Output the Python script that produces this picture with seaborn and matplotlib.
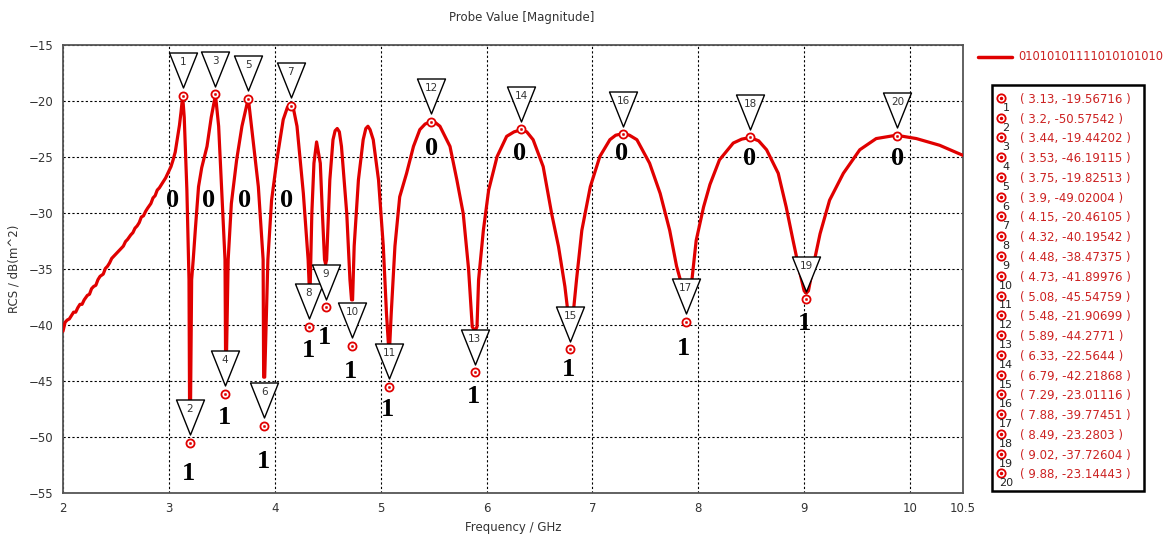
import matplotlib
matplotlib.use("Agg")
import matplotlib.pyplot as plt
import seaborn as sns
import pandas as pd
from matplotlib.transforms import ScaledTranslation
from matplotlib.lines import Line2D
from matplotlib.patches import Rectangle
from matplotlib.path import Path
from matplotlib.markers import MarkerStyle

# ---------------- data ----------------
freq = [2.00, 2.02, 2.04, 2.06, 2.08, 2.10, 2.12, 2.14, 2.16, 2.18, 2.20, 2.23, 2.25, 2.27,
        2.29, 2.31, 2.33, 2.35, 2.38, 2.40, 2.42, 2.44, 2.46, 2.48, 2.50, 2.53, 2.55, 2.57,
        2.59, 2.61, 2.64, 2.66, 2.68, 2.70, 2.72, 2.74, 2.76, 2.78, 2.80, 2.83, 2.85, 2.87,
        2.89, 2.91, 2.93, 2.95, 2.97, 3.00, 3.02, 3.04, 3.06, 3.08, 3.10, 3.115, 3.13,
        3.145, 3.17, 3.19, 3.195, 3.205, 3.215, 3.23, 3.25, 3.28, 3.31, 3.36, 3.40, 3.44,
        3.47, 3.50, 3.53, 3.535, 3.545, 3.56, 3.59, 3.64, 3.69, 3.75,
        3.78, 3.845, 3.89, 3.895, 3.905, 3.935, 3.97, 4.02, 4.08, 4.12, 4.15,
        4.18, 4.21, 4.27, 4.315, 4.325, 4.335, 4.35, 4.37, 4.395,
        4.43, 4.45, 4.47, 4.48, 4.49, 4.52, 4.55, 4.57, 4.59, 4.61,
        4.63, 4.68, 4.71, 4.725, 4.735, 4.75, 4.79, 4.835, 4.86, 4.88, 4.90,
        4.93, 4.98, 5.025, 5.055, 5.075, 5.085, 5.10, 5.135, 5.18, 5.245, 5.31, 5.37, 5.42,
        5.47, 5.52, 5.56, 5.655, 5.72, 5.78, 5.83, 5.865, 5.89, 5.91, 5.925, 5.97, 6.02, 6.10,
        6.19, 6.26, 6.33, 6.38, 6.44, 6.535, 6.615, 6.68, 6.74, 6.765, 6.785, 6.80, 6.825,
        6.85, 6.90, 6.98, 7.07, 7.165, 7.22, 7.29, 7.35, 7.42, 7.54, 7.64, 7.73, 7.795, 7.83,
        7.86, 7.88, 7.90, 7.94, 7.98, 8.05, 8.11, 8.20, 8.33, 8.41, 8.49, 8.57, 8.645, 8.755,
        8.83, 8.895, 8.96, 9.00, 9.02, 9.04, 9.085, 9.15, 9.24, 9.37, 9.525, 9.68, 9.87,
        10.06, 10.28, 10.50]
rcs = [-40.6, -39.8, -39.6, -39.5, -39.2, -38.9, -38.9, -38.5, -38.2, -38.2, -37.8, -37.4, -37.3, -36.8,
       -36.6, -36.5, -36.0, -35.7, -35.5, -35.0, -34.8, -34.5, -34.1, -33.9, -33.7, -33.4, -33.2, -33.0,
       -32.6, -32.4, -32.0, -31.8, -31.4, -31.2, -30.9, -30.4, -30.3, -29.9, -29.6, -29.2, -28.7, -28.5,
       -28.0, -27.8, -27.5, -27.2, -26.9, -26.3, -25.9, -25.3, -24.6, -23.4, -22.2, -21.0, -19.6,
       -21.5, -28.0, -36.0, -46.7, -46.7, -36.0, -34.2, -31.5, -27.7, -26.0, -24.1, -21.5, -19.5,
       -22.3, -28.3, -34.2, -42.3, -42.3, -34.2, -29.2, -25.3, -22.3, -19.8,
       -22.3, -27.7, -34.2, -44.7, -44.7, -34.2, -28.9, -25.3, -21.7, -20.6, -20.4,
       -20.9, -22.3, -28.3, -34.2, -36.5, -36.5, -30.1, -25.6, -23.7,
       -25.6, -30.1, -34.2, -34.6, -34.2, -27.1, -23.5, -22.7, -22.5, -22.8,
       -24.1, -30.1, -36.0, -37.8, -37.8, -33.0, -27.1, -23.5, -22.5, -22.3, -22.6,
       -23.5, -27.1, -33.0, -39.0, -42.0, -42.0, -39.0, -33.0, -28.6, -26.5, -24.1, -22.6, -22.1,
       -21.9, -22.0, -22.3, -24.1, -27.1, -30.1, -35.0, -40.2, -40.6, -40.2, -36.0, -31.6, -28.0, -25.0,
       -23.2, -22.8, -22.6, -22.8, -23.5, -25.9, -30.1, -33.05, -36.6, -38.6, -39.0, -39.0, -38.4,
       -36.0, -31.6, -27.7, -25.0, -23.5, -23.1, -22.95, -23.1, -23.5, -25.6, -28.3, -31.6, -34.8, -36.0,
       -38.0, -38.4, -38.0, -36.0, -32.5, -29.5, -27.5, -25.3, -23.8, -23.45, -23.3, -23.6, -24.4, -26.5,
       -29.5, -32.5, -35.4, -37.0, -37.2, -37.0, -34.8, -31.9, -28.9, -26.5, -24.4, -23.4, -23.1,
       -23.4, -24.0, -24.9]

marker_f = [3.13, 3.2, 3.44, 3.53, 3.75, 3.9, 4.15, 4.32, 4.48, 4.73, 5.08, 5.48, 5.89, 6.33,
            6.79, 7.29, 7.88, 8.49, 9.02, 9.88]
marker_v = [-19.56716, -50.57542, -19.44202, -46.19115, -19.82513, -49.02004, -20.46105,
            -40.19542, -38.47375, -41.89976, -45.54759, -21.90699, -44.2771, -22.5644,
            -42.21868, -23.01116, -39.77451, -23.2803, -37.72604, -23.14443]
marker_txt = ["( 3.13, -19.56716 )", "( 3.2, -50.57542 )", "( 3.44, -19.44202 )",
              "( 3.53, -46.19115 )", "( 3.75, -19.82513 )", "( 3.9, -49.02004 )",
              "( 4.15, -20.46105 )", "( 4.32, -40.19542 )", "( 4.48, -38.47375 )",
              "( 4.73, -41.89976 )", "( 5.08, -45.54759 )", "( 5.48, -21.90699 )",
              "( 5.89, -44.2771 )", "( 6.33, -22.5644 )", "( 6.79, -42.21868 )",
              "( 7.29, -23.01116 )", "( 7.88, -39.77451 )", "( 8.49, -23.2803 )",
              "( 9.02, -37.72604 )", "( 9.88, -23.14443 )"]

bit_txt = ["0", "0", "0", "0", "0", "0", "0", "0", "0",
           "1", "1", "1", "1", "1", "1", "1", "1", "1", "1", "1"]
bit_f = [3.039, 3.379, 3.719, 4.115, 5.482, 6.315, 7.276, 8.481, 9.878,
         3.19, 3.525, 3.891, 4.316, 4.467, 4.72, 5.066, 5.874, 6.771, 7.857, 9.007]
bit_v = [-28.9, -28.9, -28.9, -28.9, -24.3, -24.7, -24.7, -25.15, -25.15,
         -53.3, -48.3, -52.25, -42.3, -41.2, -44.2, -47.6, -46.45, -44.05, -42.1, -39.9]

x_ticks = [2, 3, 4, 5, 6, 7, 8, 9, 10, 10.5]
x_tick_labels = ["2", "3", "4", "5", "6", "7", "8", "9", "10", "10.5"]
y_ticks = [-15, -20, -25, -30, -35, -40, -45, -50, -55]
series_name = "01010101111010101010"

# ---------------- style ----------------
sns.set_style("white")
plt.rcParams['font.family'] = ['DejaVu Sans']
RED = "#e00000"
W, H = 1168, 538

fig = plt.figure(figsize=(W / 100, H / 100), dpi=100)
ax = fig.add_axes([63 / W, 1 - 492.5 / H, 900 / W, 448 / H])

df = pd.DataFrame({"f": freq, "rcs": rcs})
sns.lineplot(data=df, x="f", y="rcs", ax=ax, color=RED, lw=2.3, sort=False,
             estimator=None, legend=False, zorder=3, solid_joinstyle="round")

mk = pd.DataFrame({"f": marker_f, "v": marker_v})
sns.scatterplot(data=mk, x="f", y="v", ax=ax, s=34, facecolor="white", edgecolor=RED,
                linewidth=1.3, zorder=5, legend=False)
sns.scatterplot(data=mk, x="f", y="v", ax=ax, s=3, color=RED, edgecolor=RED,
                linewidth=0.3, zorder=6, legend=False)

# inverted triangle flag: 28 px wide, 35 px tall, tip 8 px above the marker centre
tri_path = Path([(-0.4, 0.5), (0.4, 0.5), (0.0, -0.5), (-0.4, 0.5)],
                [Path.MOVETO, Path.LINETO, Path.LINETO, Path.CLOSEPOLY])
tri_marker = MarkerStyle(tri_path)
tri_off = ax.transData + ScaledTranslation(0, 0.255, fig.dpi_scale_trans)
num_off = ax.transData + ScaledTranslation(0, 0.335, fig.dpi_scale_trans)
for i, (fx, fv) in enumerate(zip(marker_f, marker_v)):
    ax.plot([fx], [fv], marker=tri_marker, ms=25.2, mfc="white",
            mec="black", mew=1.0, linestyle="none", transform=tri_off, clip_on=False,
            zorder=7)
    ax.text(fx, fv, str(i + 1), transform=num_off, ha="center", va="center",
            fontsize=7.5, color="#333333", zorder=8, clip_on=False)

for b, bx, by in zip(bit_txt, bit_f, bit_v):
    ax.text(bx, by, b, ha="center", va="center", fontsize=19, fontweight="bold",
            family="Liberation Serif", color="black", zorder=9, clip_on=False)

ax.set_xlim(2, 10.5)
ax.set_ylim(-55, -15)
ax.set_xticks(x_ticks)
ax.set_xticklabels(x_tick_labels)
ax.set_yticks(y_ticks)
ax.grid(True, color="black", linestyle=(0, (2, 2)), lw=0.8)
for sp in ax.spines.values():
    sp.set_color("#555555")
    sp.set_linewidth(1.3)
ax.tick_params(direction="out", length=4, width=1, color="#555555",
               labelsize=8.5, labelcolor="#333333", pad=3)
ax.set_xlabel("Frequency / GHz", fontsize=8.5, color="#333333", labelpad=4)
ax.set_ylabel("RCS / dB(m^2)", fontsize=8.5, color="#333333", labelpad=6)

fig.text(522 / W, 1 - 18 / H, "Probe Value [Magnitude]", ha="center", va="center",
         fontsize=8.5, color="#333333")

# series legend
fig.add_artist(Line2D([978 / W, 1012 / W], [1 - 57 / H, 1 - 57 / H], color=RED, lw=2.5,
                      transform=fig.transFigure))
fig.text(1018 / W, 1 - 57 / H, series_name, ha="left", va="center", fontsize=8.3,
         color="#cc2222")

# marker list box
fig.add_artist(Rectangle((992 / W, 1 - 491 / H), 152 / W, 406 / H, transform=fig.transFigure,
                         facecolor="white", edgecolor="black", lw=1.8))
for i, t in enumerate(marker_txt):
    yy = 99.3 + i * 19.77
    fig.add_artist(Line2D([1001 / W], [1 - (yy - 1.5) / H], marker="o", ms=6, mfc="white",
                          mec=RED, mew=1.3, transform=fig.transFigure))
    fig.add_artist(Line2D([1001 / W], [1 - (yy - 1.5) / H], marker="o", ms=1.5, mfc=RED,
                          mec=RED, transform=fig.transFigure))
    fig.text(1006 / W, 1 - (yy + 8.5) / H, str(i + 1), ha="center", va="center",
             fontsize=8, color="#222222")
    fig.text(1020 / W, 1 - yy / H, t, ha="left", va="center", fontsize=8.5, color="#cc2222")

fig.savefig("out.png", dpi=100)
